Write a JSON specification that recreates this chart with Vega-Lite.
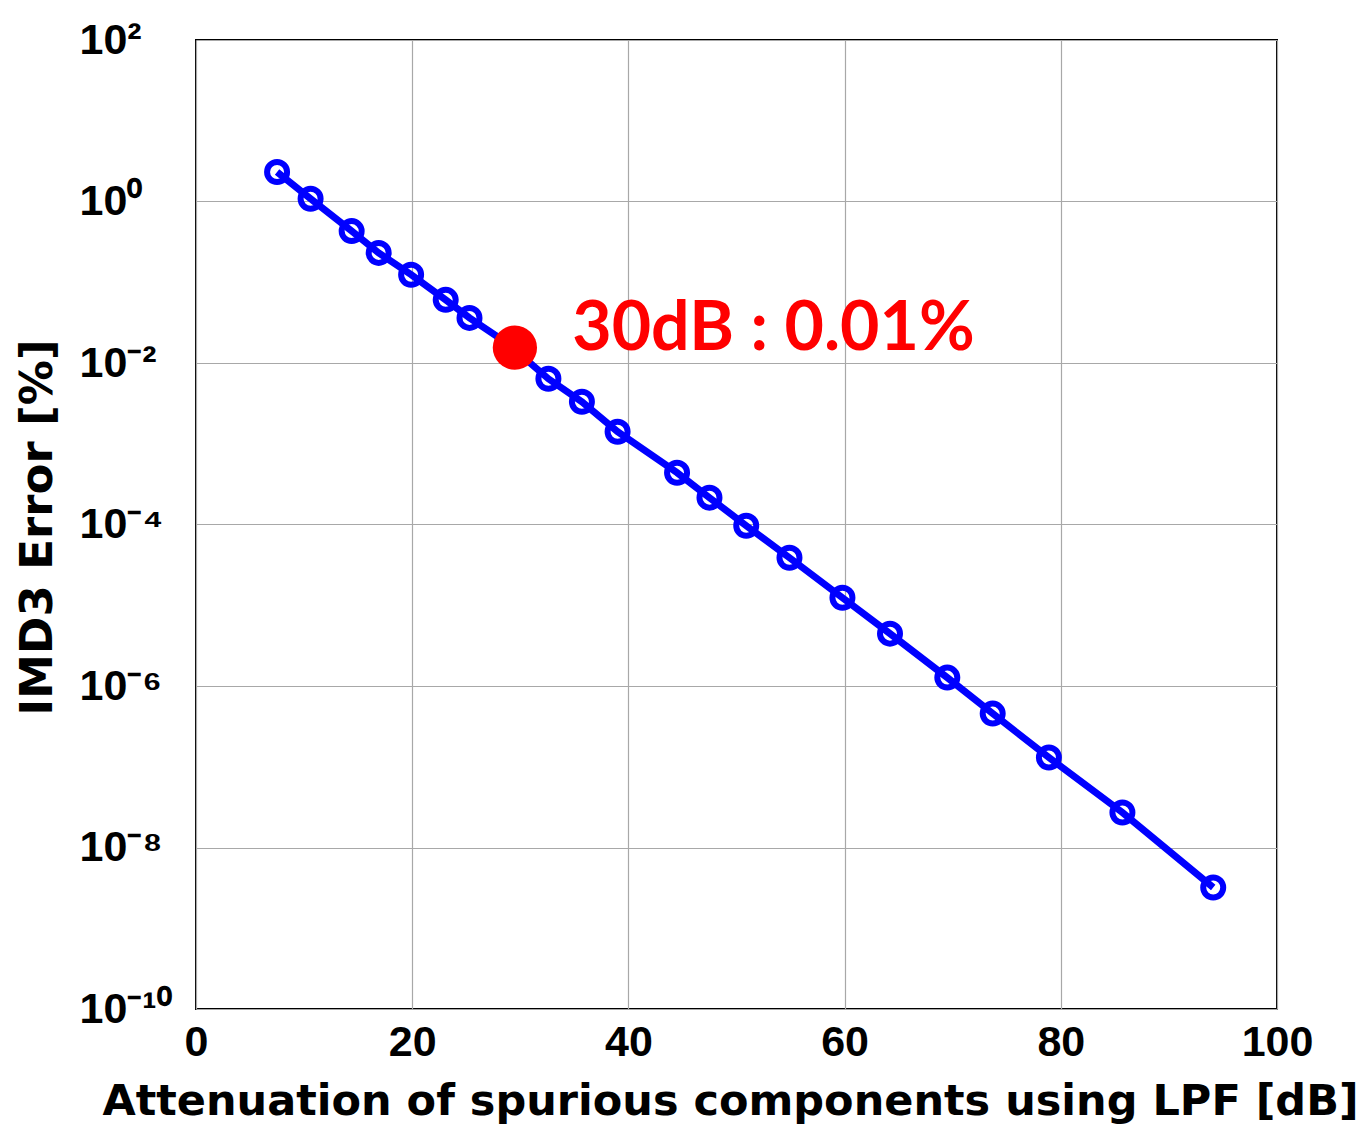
{
  "$schema": "https://vega.github.io/schema/vega-lite/v6.json",
  "width": 1081,
  "height": 969,
  "autosize": {"type": "none"},
  "padding": {"left": 196, "top": 40, "right": 88, "bottom": 115},
  "background": "white",
  "config": {
    "view": {"stroke": "black", "strokeWidth": 2},
    "axis": {
      "grid": true,
      "gridColor": "#a8a8a8",
      "gridWidth": 1.2,
      "domain": false,
      "ticks": false,
      "labelFont": "Liberation Sans",
      "labelFontWeight": "bold",
      "labelFontSize": 43,
      "labelColor": "black",
      "titleFont": "DejaVu Sans",
      "titleFontWeight": "bold",
      "titleColor": "black"
    }
  },
  "datasets": {
    "curve": [
      {"att": 7.5, "err": 2.32},
      {"att": 10.6, "err": 1.08},
      {"att": 14.4, "err": 0.43},
      {"att": 16.9, "err": 0.231},
      {"att": 19.9, "err": 0.124},
      {"att": 23.1, "err": 0.0605},
      {"att": 25.3, "err": 0.0362},
      {"att": 28.8, "err": 0.0175},
      {"att": 32.6, "err": 0.00637},
      {"att": 35.7, "err": 0.00331},
      {"att": 39.0, "err": 0.00141},
      {"att": 44.5, "err": 0.000438},
      {"att": 47.5, "err": 0.000215},
      {"att": 50.9, "err": 0.0000966},
      {"att": 54.9, "err": 0.0000388},
      {"att": 59.8, "err": 0.0000124},
      {"att": 64.2, "err": 0.00000445},
      {"att": 69.5, "err": 0.00000127},
      {"att": 73.7, "err": 0.000000455},
      {"att": 78.9, "err": 0.00000013},
      {"att": 85.7, "err": 0.0000000271},
      {"att": 94.1, "err": 0.0000000032}
    ],
    "marker": [
      {"att": 29.5, "err": 0.0155}
    ],
    "note": [
      {"att": 34.8, "err": 0.0255, "label": "30dB : 0.01%"}
    ]
  },
  "layer": [
    {
      "data": {"name": "curve"},
      "mark": {"type": "line", "color": "#0000ff", "strokeWidth": 7},
      "encoding": {
        "x": {
          "field": "att", "type": "quantitative",
          "scale": {"domain": [0, 100], "nice": false, "zero": false},
          "axis": {
            "values": [0, 20, 40, 60, 80, 100],
            "labelPadding": 12,
            "labelFlush": false,
            "title": "Attenuation of spurious components using LPF [dB]",
            "titleFontSize": 43,
            "titleX": 534,
            "titleY": 92,
            "titleAnchor": null,
            "titleAlign": "center",
            "titleBaseline": "middle"
          }
        },
        "y": {
          "field": "err", "type": "quantitative",
          "scale": {"type": "log", "domain": [1e-10, 100], "nice": false},
          "axis": {
            "values": [100, 1, 0.01, 0.0001, 0.000001, 0.00000001, 0.0000000001],
            "labelAlign": "left",
            "labelBaseline": "middle",
            "labelPadding": 117,
            "labelFlush": false,
            "labelExpr": "'10' + replace(replace(replace(replace(replace(replace(replace('' + round(log(datum.value)/LN10), '-', '⁻'), '0', '⁰'), '1', '¹'), '2', '²'), '4', '⁴'), '6', '⁶'), '8', '⁸')",
            "title": "IMD3 Error [%]",
            "titleFontSize": 45,
            "titleX": -159,
            "titleY": 487,
            "titleAngle": -90,
            "titleAlign": "center",
            "titleBaseline": "middle"
          }
        }
      }
    },
    {
      "data": {"name": "curve"},
      "mark": {"type": "point", "shape": "circle", "filled": false, "color": "#0000ff", "strokeWidth": 6, "size": 400, "opacity": 1},
      "encoding": {
        "x": {"field": "att", "type": "quantitative"},
        "y": {"field": "err", "type": "quantitative"}
      }
    },
    {
      "data": {"name": "marker"},
      "mark": {"type": "circle", "color": "#ff0000", "size": 1960, "opacity": 1},
      "encoding": {
        "x": {"field": "att", "type": "quantitative"},
        "y": {"field": "err", "type": "quantitative"}
      }
    },
    {
      "data": {"name": "note"},
      "mark": {"type": "text", "color": "#ff0000", "font": "Lato", "fontWeight": "bold", "fontSize": 68, "align": "left", "baseline": "middle"},
      "encoding": {
        "x": {"field": "att", "type": "quantitative"},
        "y": {"field": "err", "type": "quantitative"},
        "text": {"field": "label"}
      }
    }
  ]
}
